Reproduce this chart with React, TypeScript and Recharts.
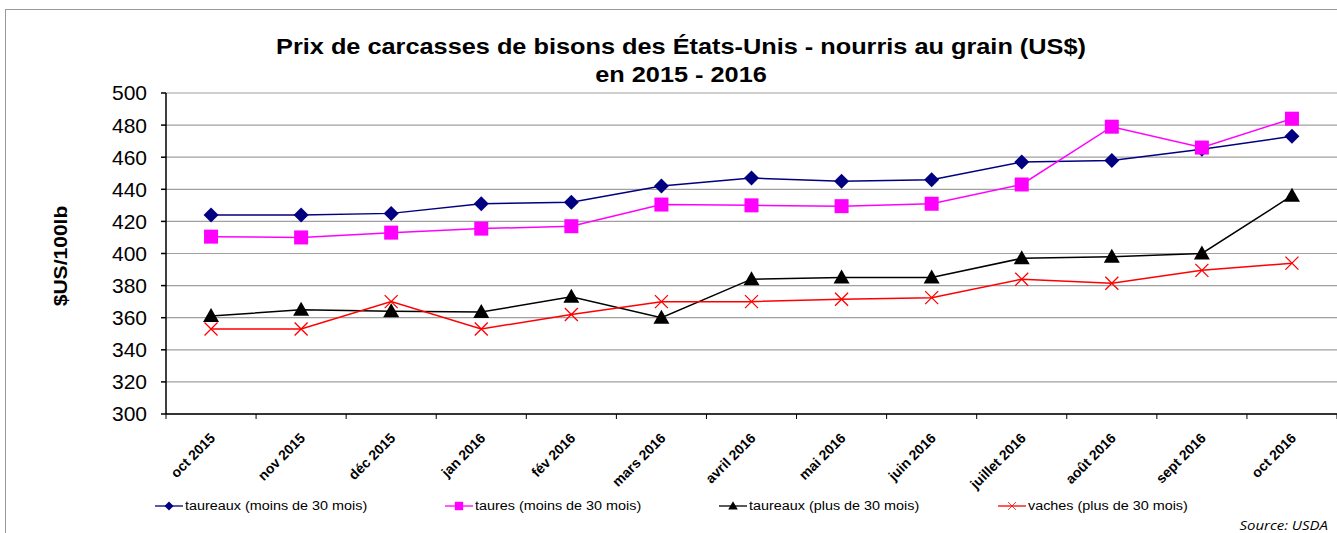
import React from 'react';
import { LineChart, Line, XAxis, YAxis, CartesianGrid } from 'recharts';

const mois = [
  'oct 2015', 'nov 2015', 'déc 2015', 'jan 2016', 'fév 2016', 'mars 2016', 'avril 2016',
  'mai 2016', 'juin 2016', 'juillet 2016', 'août 2016', 'sept 2016', 'oct 2016',
];
const taureauxMoins30 = [424, 424, 425, 431, 432, 442, 447, 445, 446, 457, 458, 465, 473];
const tauresMoins30 = [410.5, 410, 413, 415.5, 417, 430.5, 430, 429.5, 431, 443, 479, 466, 484];
const taureauxPlus30 = [361, 365, 364, 363.5, 373, 360, 384, 385, 385, 397, 398, 400, 436];
const vachesPlus30 = [353, 353, 370, 353, 362, 370, 370, 371.5, 372.5, 384, 381.5, 389.5, 394];
const yTicks = [300, 320, 340, 360, 380, 400, 420, 440, 460, 480, 500];

const data = mois.map((m, i) => ({
  mois: m,
  tm: taureauxMoins30[i],
  ta: tauresMoins30[i],
  tp: taureauxPlus30[i],
  va: vachesPlus30[i],
}));

const FONT = '"Liberation Sans", Arial, sans-serif';

function Diamond({ cx, cy, color }: any) {
  if (cx == null || cy == null) return null;
  const r = 7.5;
  return <path d={`M${cx},${cy - r}L${cx + r},${cy}L${cx},${cy + r}L${cx - r},${cy}Z`} fill={color} />;
}
function Square({ cx, cy, color }: any) {
  if (cx == null || cy == null) return null;
  const r = 7;
  return <rect x={cx - r} y={cy - r} width={2 * r} height={2 * r} fill={color} />;
}
function Triangle({ cx, cy, color }: any) {
  if (cx == null || cy == null) return null;
  const r = 8;
  return <path d={`M${cx},${cy - r}L${cx + r},${cy + r * 0.75}L${cx - r},${cy + r * 0.75}Z`} fill={color} />;
}
function Cross({ cx, cy, color }: any) {
  if (cx == null || cy == null) return null;
  const r = 6.5;
  return (
    <path d={`M${cx - r},${cy - r}L${cx + r},${cy + r}M${cx + r},${cy - r}L${cx - r},${cy + r}`}
      stroke={color} strokeWidth={1.3} fill="none" />
  );
}

const series = [
  { key: 'tm', name: 'taureaux (moins de 30 mois)', color: '#000080', Dot: Diamond, lx: 155 },
  { key: 'ta', name: 'taures (moins de 30 mois)', color: '#FF00FF', Dot: Square, lx: 445 },
  { key: 'tp', name: 'taureaux (plus de 30 mois)', color: '#000000', Dot: Triangle, lx: 719 },
  { key: 'va', name: 'vaches (plus de 30 mois)', color: '#FF0000', Dot: Cross, lx: 998 },
];

function MonthTick({ x, y, payload, index, visibleTicksCount }: any) {
  const half = payload?.offset ?? 45;
  const tx = x + 5;
  const ty = y + 17;
  return (
    <g>
      <line x1={x - half} x2={x - half} y1={y - 8} y2={y - 3} stroke="#000" />
      {index === visibleTicksCount - 1 && (
        <line x1={x + half} x2={x + half} y1={y - 8} y2={y - 3} stroke="#000" />
      )}
      <text x={tx} y={ty} textAnchor="end" fontFamily={FONT} fontWeight="bold"
        fontSize={14} fill="#000" transform={`rotate(-45 ${tx} ${ty})`}>
        {payload.value}
      </text>
    </g>
  );
}

function MiniIcon({ Dot, color }: any) {
  return (
    <svg width={28} height={14} style={{ verticalAlign: 'middle' }}>
      <line x1={0} x2={28} y1={7} y2={7} stroke={color} strokeWidth={1.3} />
      <g transform="translate(14 7) scale(0.6) translate(-14 -7)">
        <Dot cx={14} cy={7} color={color} />
      </g>
    </svg>
  );
}

export default function App() {
  return (
    <div style={{ position: 'absolute', left: 0, top: 0, width: 1337, height: 533, background: '#fff', overflow: 'hidden', fontFamily: FONT }}>
      <div style={{ position: 'absolute', left: 5, top: 9, width: 1400, height: 600, borderLeft: '1px solid #999', borderTop: '1px solid #999' }} />
      <div style={{ position: 'absolute', left: 0, top: 33, width: 1362, textAlign: 'center', fontSize: 22, fontWeight: 'bold', lineHeight: '28px', color: '#000', transform: 'scaleX(1.15)', transformOrigin: '681px 0' }}>
        Prix de carcasses de bisons des États-Unis - nourris au grain (US$)<br />en 2015 - 2016
      </div>
      <div style={{ position: 'absolute', left: 61, top: 256, transform: 'translate(-50%, -50%) rotate(-90deg) scaleX(1.17)', fontSize: 18, fontWeight: 'bold', whiteSpace: 'nowrap' }}>
        $US/100lb
      </div>
      <LineChart width={1337} height={533} data={data} margin={{ top: 93, right: 0, left: 0, bottom: 49 }}>
        <CartesianGrid vertical={false} stroke="#a0a0a0" strokeWidth={1.2} />
        <XAxis dataKey="mois" scale="band" height={70} stroke="#000" strokeWidth={1.5} tickLine={false} tick={<MonthTick />} interval={0} />
        <YAxis domain={[300, 500]} ticks={yTicks} width={166} stroke="#000" strokeWidth={1.5}
          tickSize={5} tick={{ fill: '#000', fontSize: 21, fontFamily: FONT, dx: -12 }} interval={0} />
        {series.map((s) => (
          <Line key={s.key} dataKey={s.key} name={s.name} stroke={s.color} strokeWidth={1.5}
            dot={(p: any) => <s.Dot key={p.index} cx={p.cx} cy={p.cy} color={s.color} />}
            isAnimationActive={false} />
        ))}
      </LineChart>
      {series.map((s) => (
        <div key={s.key} style={{ position: 'absolute', left: s.lx, top: 499, fontSize: 12.5, whiteSpace: 'nowrap', display: 'flex', alignItems: 'center' }}>
          <MiniIcon Dot={s.Dot} color={s.color} />
          <span style={{ marginLeft: 2, display: 'inline-block', transform: 'scaleX(1.15)', transformOrigin: '0 50%' }}>{s.name}</span>
        </div>
      ))}
      <div style={{ position: 'absolute', right: 9, top: 516, fontSize: 13, fontStyle: 'italic', fontFamily: '"Open Sans", "DejaVu Sans", sans-serif', transform: 'scaleX(1.15)', transformOrigin: '100% 50%' }}>
        Source: USDA
      </div>
    </div>
  );
}
